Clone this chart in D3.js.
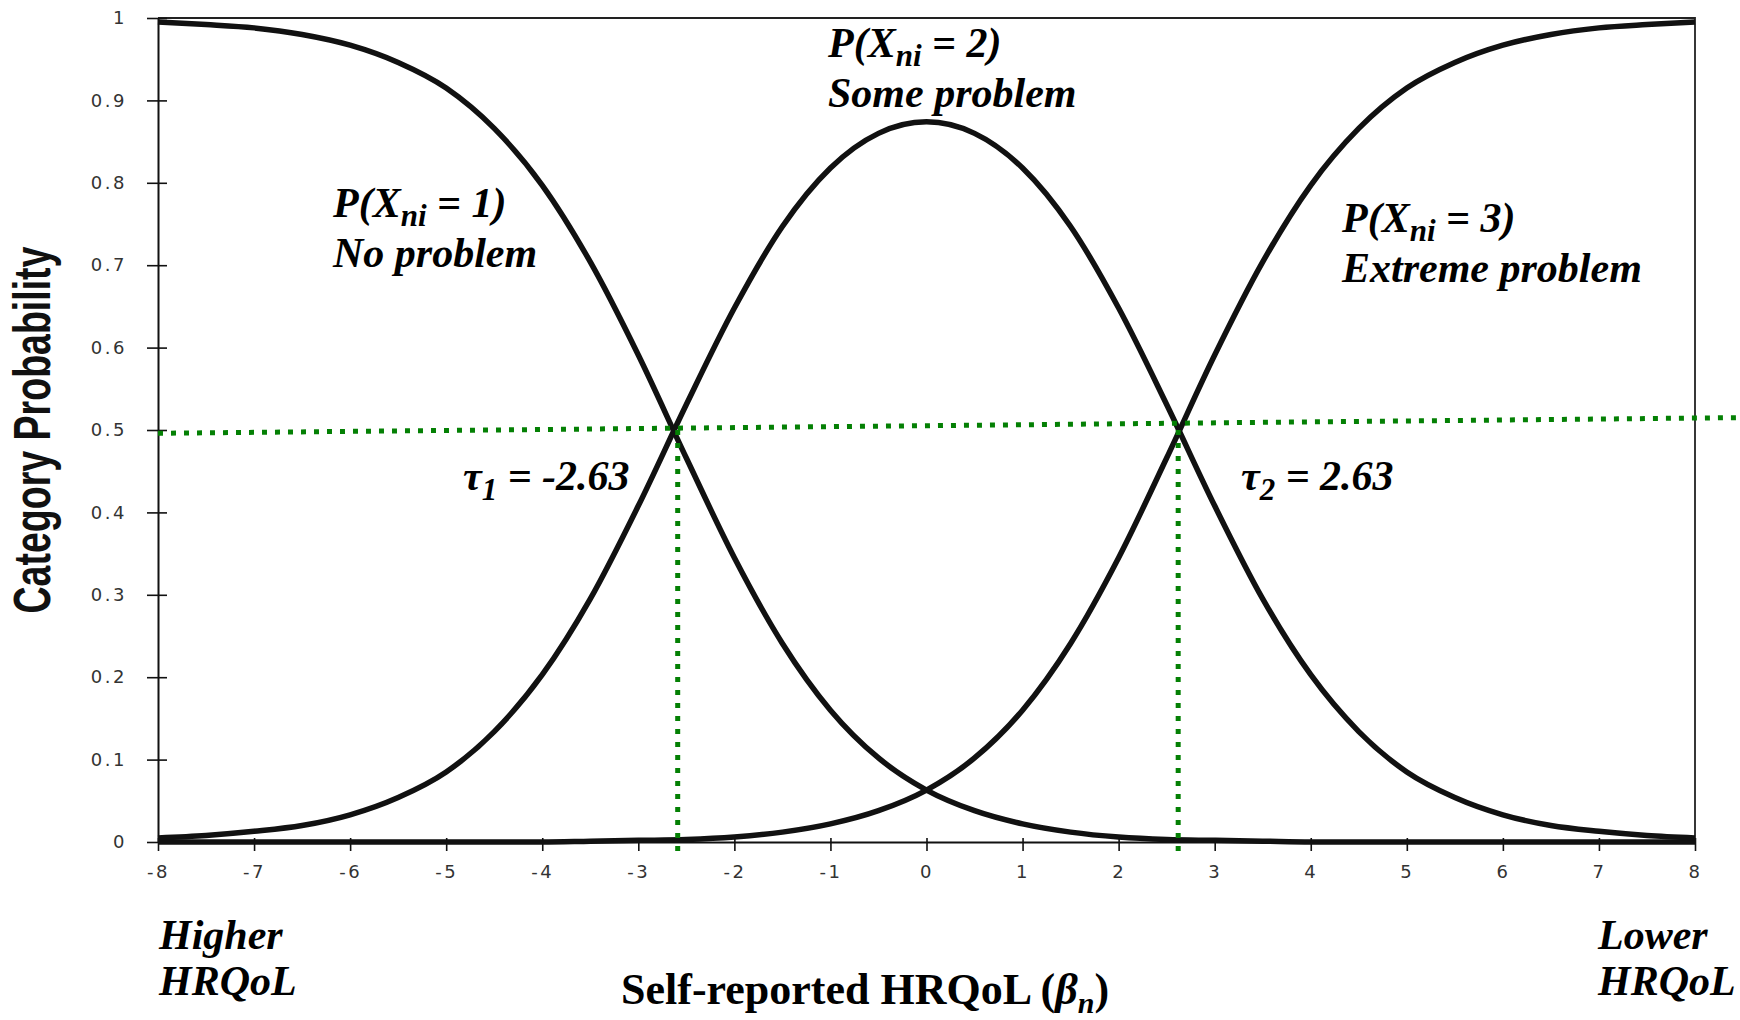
<!DOCTYPE html>
<html lang="en">
<head>
    <meta charset="UTF-8">
    <title>Category probability curves</title>
    <style type="text/css">
        html, body { padding:0; margin:0; background:#fff; }
        .tick text { font-family:"DejaVu Sans", Verdana, sans-serif; font-size:18px; letter-spacing:2.5px; fill:#333; }
        .lbl { font-family:"Liberation Serif", "Times New Roman", serif; font-weight:bold; font-style:italic; font-size:42px; fill:#000; }
        .ttl { font-family:"Liberation Serif", "Times New Roman", serif; font-weight:bold; font-size:44px; fill:#000; }
    </style>
</head>
<body>
<script src="https://d3js.org/d3.v7.min.js"></script>
<script>
    // person location (beta) where the curves were read
    var beta = [-8, -7.5, -7, -6.5, -6, -5.5, -5, -4.5, -4, -3.5, -3, -2.5, -2, -1.5, -1, -0.5,
                0, 0.5, 1, 1.5, 2, 2.5, 3, 3.5, 4, 4.5, 5, 5.5, 6, 6.5, 7, 7.5, 8];

    // P(X = 1) no problem
    var pNone = [0.995, 0.992, 0.988, 0.980, 0.967, 0.946, 0.915, 0.866, 0.797, 0.704, 0.591, 0.466,
                 0.345, 0.241, 0.160, 0.102, 0.063, 0.038, 0.022, 0.012, 0.006, 0.003, 0.002, 0.001,
                 0.000, 0.000, 0.000, 0.000, 0.000, 0.000, 0.000, 0.000, 0.000];

    // P(X = 2) some problem
    var pSome = [0.005, 0.008, 0.013, 0.020, 0.033, 0.054, 0.085, 0.134, 0.203, 0.295, 0.408, 0.531,
                 0.648, 0.747, 0.818, 0.860, 0.874, 0.860, 0.818, 0.747, 0.648, 0.531, 0.408, 0.295,
                 0.203, 0.134, 0.085, 0.054, 0.033, 0.020, 0.013, 0.008, 0.005];

    // P(X = 3) extreme problem
    var pExtreme = [0.000, 0.000, 0.000, 0.000, 0.000, 0.000, 0.000, 0.000, 0.000, 0.001, 0.002, 0.003,
                    0.006, 0.012, 0.022, 0.038, 0.063, 0.102, 0.160, 0.241, 0.345, 0.466, 0.591, 0.704,
                    0.797, 0.866, 0.915, 0.946, 0.967, 0.980, 0.988, 0.992, 0.995];

    var xTicks = [-8, -7, -6, -5, -4, -3, -2, -1, 0, 1, 2, 3, 4, 5, 6, 7, 8];
    var yTicks = [0, 0.1, 0.2, 0.3, 0.4, 0.5, 0.6, 0.7, 0.8, 0.9, 1];

    // thresholds: where the dotted drop lines sit, and their printed values
    var tauPos = [-2.59, 2.62];
    var tauText = ["-2.63", "2.63"];

    // the dotted 0.5 guide starts at the y axis and runs a little uphill past the right edge
    var halfLine = [[-8, 0.496], [8.47, 0.515]];

    var chart = {
        width: 1740,
        height: 1020,
        margin: { left: 158, right: 45, top: 18, bottom: 178 }
    };
    var m = chart.margin;

    var svg = d3.select('body').append('svg')
        .attr('width', chart.width)
        .attr('height', chart.height);

    var x = d3.scaleLinear().domain([-8, 8]).range([m.left, chart.width - m.right]);
    var y = d3.scaleLinear().domain([0, 1]).range([chart.height - m.bottom, m.top]);

    // frame top and right
    svg.append('path')
        .attr('d', 'M' + x(-8) + ',' + y(1) + 'H' + x(8) + 'V' + y(0))
        .attr('fill', 'none')
        .attr('stroke', '#222')
        .attr('stroke-width', 1.8);

    // axes
    var yAxis = svg.append('g')
        .attr('class', 'y-axis')
        .attr('transform', 'translate(' + x(-8) + ',0)')
        .call(d3.axisLeft(y).tickValues(yTicks).tickSize(11).tickSizeOuter(0).tickPadding(20)
              .tickFormat(function(d) { return String(d); }));

    yAxis.selectAll('.tick').append('line')
        .attr('x1', 0).attr('x2', 9);

    var xAxis = svg.append('g')
        .attr('class', 'x-axis')
        .attr('transform', 'translate(0,' + y(0) + ')')
        .call(d3.axisBottom(x).tickValues(xTicks).tickSize(9).tickSizeOuter(0).tickPadding(14)
              .tickFormat(function(d) { return String(d); }));

    xAxis.selectAll('.tick').append('line')
        .attr('y1', 0).attr('y2', -4);

    svg.selectAll('.domain').attr('stroke', '#111').attr('stroke-width', 2);
    svg.selectAll('.tick line').attr('stroke', '#111').attr('stroke-width', 1.6);

    // category curves
    var line = d3.line()
        .x(function(d) { return x(d[0]); })
        .y(function(d) { return y(d[1]); })
        .curve(d3.curveMonotoneX);

    [pNone, pSome, pExtreme].forEach(function(series) {
        svg.append('path')
            .datum(beta.map(function(b, i) { return [b, series[i]]; }))
            .attr('d', line)
            .attr('fill', 'none')
            .attr('stroke', '#111')
            .attr('stroke-width', 5.5)
            .attr('stroke-linejoin', 'round');
    });

    // green dotted guides
    var green = '#048004';
    svg.append('path')
        .datum(halfLine)
        .attr('d', d3.line().x(function(d) { return x(d[0]); }).y(function(d) { return y(d[1]); }))
        .attr('fill', 'none')
        .attr('stroke', green)
        .attr('stroke-width', 5)
        .attr('stroke-dasharray', '5 8');

    tauPos.forEach(function(t) {
        svg.append('line')
            .attr('x1', x(t)).attr('x2', x(t))
            .attr('y1', y(0.5)).attr('y2', y(-0.012))
            .attr('stroke', green)
            .attr('stroke-width', 5)
            .attr('stroke-dasharray', '5 8');
    });

    // text helpers
    function prob(px, py, k, name) {
        var t = svg.append('text').attr('class', 'lbl').attr('x', px).attr('y', py);
        t.append('tspan').text('P(X');
        t.append('tspan').attr('font-size', 31).attr('dy', 9).text('ni');
        t.append('tspan').attr('dy', -9).text(' = ' + k + ')');
        svg.append('text').attr('class', 'lbl').attr('x', px).attr('y', py + 50).text(name);
    }

    prob(333, 217, 1, 'No problem');
    prob(828, 57, 2, 'Some problem');
    prob(1342, 232, 3, 'Extreme problem');

    function tauLabel(px, py, i) {
        var t = svg.append('text').attr('class', 'lbl').attr('x', px).attr('y', py);
        t.append('tspan').text('\u03c4');
        t.append('tspan').attr('font-size', 31).attr('dy', 10).text(String(i + 1));
        t.append('tspan').attr('dy', -10).text(' = ' + tauText[i]);
    }

    tauLabel(463, 490, 0);
    tauLabel(1241, 490, 1);

    svg.append('text').attr('class', 'lbl').attr('x', 159).attr('y', 949).text('Higher');
    svg.append('text').attr('class', 'lbl').attr('x', 159).attr('y', 995).text('HRQoL');
    svg.append('text').attr('class', 'lbl').attr('x', 1598).attr('y', 949).text('Lower');
    svg.append('text').attr('class', 'lbl').attr('x', 1598).attr('y', 995).text('HRQoL');

    // axis titles
    var xt = svg.append('text').attr('class', 'ttl').attr('x', 621).attr('y', 1004);
    xt.append('tspan').text('Self-reported HRQoL (');
    xt.append('tspan').attr('font-style', 'italic').text('\u03b2');
    xt.append('tspan').attr('font-style', 'italic').attr('font-size', 30).attr('dy', 9).text('n');
    xt.append('tspan').attr('dy', -9).text(')');

    svg.append('text')
        .attr('transform', 'translate(50,430) rotate(-90)')
        .attr('text-anchor', 'middle')
        .attr('font-family', '"Liberation Sans Narrow", "Arial Narrow", "Liberation Sans", sans-serif')
        .attr('font-weight', 'bold')
        .attr('font-size', 52)
        .attr('textLength', 367)
        .attr('lengthAdjust', 'spacingAndGlyphs')
        .attr('fill', '#111')
        .text('Category Probability');
</script>
</body>
</html>
